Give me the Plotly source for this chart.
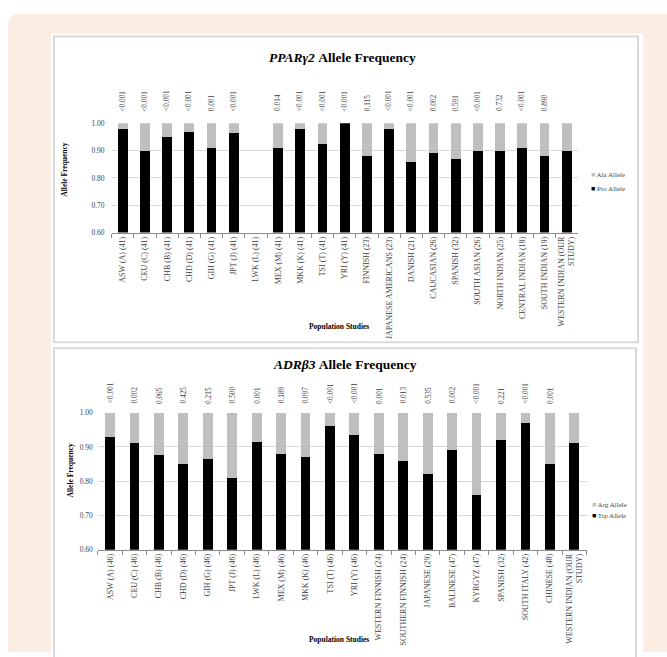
import plotly.graph_objects as go

# ---- data -------------------------------------------------------------
ppar_pops = [
    "ASW (A) (41)", "CEU (C) (41)", "CHB (B) (41)", "CHD (D) (41)", "GIH (G) (41)",
    "JPT (J) (41)", "LWK (L) (41)", "MEX (M) (41)", "MKK (K) (41)", "TSI (T) (41)",
    "YRI (Y) (41)", "FINNISH (23)", "JAPANESE AMERICANS (23)", "DANISH (21)",
    "CAUCASIAN (26)", "SPANISH (32)", "SOUTH ASIAN (26)", "NORTH INDIAN (25)",
    "CENTRAL INDIAN (18)", "SOUTH INDIAN (19)", "WESTERN INDIAN (OUR<br>STUDY)",
]
ppar_pro = [0.98, 0.90, 0.95, 0.97, 0.91, 0.965, None, 0.91, 0.98, 0.925,
            1.00, 0.88, 0.98, 0.86, 0.89, 0.87, 0.90, 0.90, 0.91, 0.88, 0.90]
ppar_ala = [None if v is None else round(1 - v, 3) for v in ppar_pro]
ppar_p = ["<0.001", "<0.001", "<0.001", "<0.001", "0.001", "<0.001", "", "0.014",
          "<0.001", "<0.001", "<0.001", "0.115", "<0.001", "<0.001", "0.002",
          "0.591", "<0.001", "0.732", "<0.001", "0.890", ""]

adr_pops = [
    "ASW (A) (46)", "CEU (C) (46)", "CHB (B) (46)", "CHD (D) (46)", "GIH (G) (46)",
    "JPT (J) (46)", "LWK (L) (46)", "MEX (M) (46)", "MKK (K) (46)", "TSI (T) (46)",
    "YRI (Y) (46)", "WESTERN FINNISH (24)", "SOUTHERN FINNISH (24)", "JAPANESE (29)",
    "BALINESE (47)", "KYRGYZ (47)", "SPANISH (32)", "SOUTH ITALY (42)",
    "CHINESE (48)", "WESTERN INDIAN (OUR<br>STUDY)",
]
adr_trp = [0.93, 0.91, 0.875, 0.85, 0.865, 0.81, 0.915, 0.88, 0.87, 0.96,
           0.935, 0.88, 0.86, 0.82, 0.89, 0.76, 0.92, 0.97, 0.85, 0.91]
adr_arg = [round(1 - v, 3) for v in adr_trp]
adr_p = ["<0.001", "0.002", "0.065", "0.425", "0.215", "0.500", "0.001", "0.189",
         "0.097", "<0.001", "<0.001", "0.001", "0.013", "0.535", "0.002", "<0.001",
         "0.221", "<0.001", "0.001", ""]

# ---- styling ----------------------------------------------------------
W, H = 667, 657
SERIF = "Liberation Serif, Times New Roman, serif"
BLACK = "#000000"
GREY = "#BFBFBF"
GRID = "#D9D9D9"
AXIS = "#8C8C8C"
TXT = "#3F3F3F"
PEACH = "#FBEDE3"


def px(x):
    return x / W


def py(y):
    return 1 - y / H


fig = go.Figure()

# stacked bars: dark allele at the bottom, light allele stacked to 1.00
fig.add_trace(go.Bar(x=ppar_pops, y=ppar_pro, name="Pro Allele", marker_color=BLACK,
                     width=0.44, xaxis="x", yaxis="y", showlegend=False))
fig.add_trace(go.Bar(x=ppar_pops, y=ppar_ala, name="Ala Allele", marker_color=GREY,
                     width=0.44, xaxis="x", yaxis="y", showlegend=False))
fig.add_trace(go.Bar(x=adr_pops, y=adr_trp, name="Trp Allele", marker_color=BLACK,
                     width=0.40, xaxis="x2", yaxis="y2", showlegend=False))
fig.add_trace(go.Bar(x=adr_pops, y=adr_arg, name="Arg Allele", marker_color=GREY,
                     width=0.40, xaxis="x2", yaxis="y2", showlegend=False))

for tr in fig.data:
    tr.marker.line.width = 0

yaxis_common = dict(
    range=[0.6, 1.0], dtick=0.1, tickformat=".2f", showgrid=True, gridcolor=GRID,
    gridwidth=1, zeroline=False, showline=False, ticks="",
    tickfont=dict(family=SERIF, size=7.5, color=TXT), fixedrange=True,
)
xaxis_common = dict(
    type="category", tickangle=-90, showline=True, linecolor=AXIS, linewidth=1,
    ticks="outside", tickson="boundaries", ticklen=4, tickcolor=AXIS,
    tickfont=dict(family=SERIF, size=8, color=TXT), showgrid=False,
    fixedrange=True,
)

fig.update_layout(
    width=W, height=H, margin=dict(l=0, r=0, t=0, b=0),
    paper_bgcolor="white", plot_bgcolor="rgba(0,0,0,0)",
    barmode="stack", showlegend=False,
    xaxis=dict(domain=[px(111.6), px(577.8)], anchor="y", **xaxis_common),
    yaxis=dict(domain=[py(231.7), py(121)], anchor="x", ticklabelstandoff=6,
               **yaxis_common),
    xaxis2=dict(domain=[px(97.8), px(586.5)], anchor="y2", **xaxis_common),
    yaxis2=dict(domain=[py(553.3), py(414.3)], anchor="x2", ticklabelstandoff=4,
                **yaxis_common),
)

# ---- page background and chart frames --------------------------------
shapes = [
    dict(type="path", xref="paper", yref="paper", layer="below",
         path=f"M {px(8)},{py(657)} L {px(8)},{py(22)} Q {px(8)},{py(10)} {px(20)},{py(10)} "
              f"L {px(667)},{py(10)} L {px(667)},{py(657)} Z",
         fillcolor=PEACH, line=dict(width=0)),
    dict(type="rect", xref="paper", yref="paper", layer="below",
         x0=px(51), x1=px(643), y0=py(657), y1=py(30),
         fillcolor="white", line=dict(width=0)),
    dict(type="rect", xref="paper", yref="paper", layer="below",
         x0=px(54), x1=px(638), y0=py(343), y1=py(33),
         fillcolor="white", line=dict(color="#DADADA", width=2)),
    dict(type="rect", xref="paper", yref="paper", layer="below",
         x0=px(54), x1=px(636), y0=py(665), y1=py(349),
         fillcolor="white", line=dict(color="#DADADA", width=2)),
]
fig.update_layout(shapes=shapes)


def note(text, x, y, size, angle=0, xanchor="center", color="#000"):
    return dict(text=text, x=px(x), y=py(y), xref="paper", yref="paper",
                xanchor=xanchor, yanchor="middle", showarrow=False, textangle=angle,
                font=dict(family=SERIF, size=size, color=color))


ann = []
# chart titles
ann.append(note("<b><i>PPARγ2</i> Allele Frequency</b>", 343, 54, 13.5))
ann.append(note("<b><i>ADRβ3</i> Allele Frequency</b>", 345, 366, 13.5))
# axis titles
ann.append(note("<b>Allele Frequency</b>", 65, 168, 7.5, angle=-90))
ann.append(note("<b>Allele Frequency</b>", 71, 473, 7.5, angle=-90))
ann.append(note("<b>Population Studies</b>", 339, 327, 7.5))
ann.append(note("<b>Population Studies</b>", 339, 644, 7.5))

# p-values above each bar
for cats, pvals, xr, yr, shift in [(ppar_pops, ppar_p, "x", "y", 10),
                                    (adr_pops, adr_p, "x2", "y2", 7)]:
    for c, p in zip(cats, pvals):
        if not p:
            continue
        ann.append(dict(text=p, x=c, y=1.0, xref=xr, yref=yr, xanchor="center",
                        yanchor="bottom", yshift=shift, textangle=-90, showarrow=False,
                        font=dict(family=SERIF, size=7.3, color=TXT)))

# legends
for label, color, xx, yy in [("Ala Allele", GREY, 589, 173), ("Pro Allele", BLACK, 589, 188),
                             ("Arg Allele", GREY, 590, 508), ("Trp Allele", BLACK, 590, 519)]:
    ann.append(note(f"<span style='color:{color}'>■</span> {label}", xx, yy, 7,
                    xanchor="left", color=TXT))

fig.update_layout(annotations=ann)

fig.write_html("out.html")
